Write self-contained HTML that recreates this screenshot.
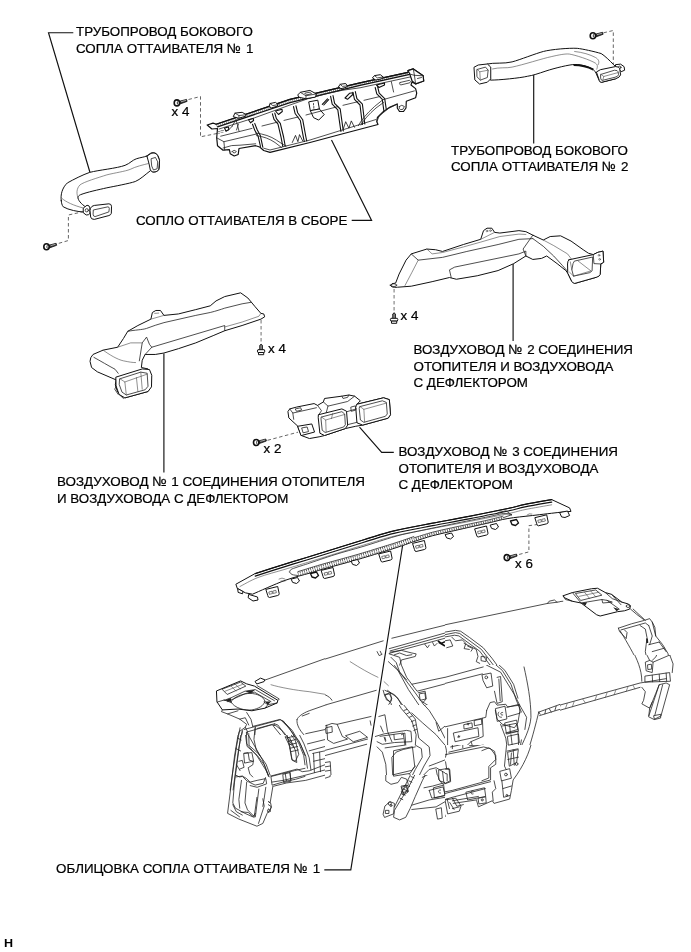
<!DOCTYPE html>
<html>
<head>
<meta charset="utf-8">
<title>Diagram</title>
<style>
html,body{margin:0;padding:0;background:#fff;}
body{width:691px;height:952px;overflow:hidden;position:relative;font-family:"Liberation Sans",sans-serif;}
svg{position:absolute;left:0;top:0;will-change:transform;}
text{font-family:"Liberation Sans",sans-serif;font-size:13.35px;fill:#000;stroke:#000;stroke-width:0.22px;}
path,circle,ellipse,rect,line,polyline,polygon{vector-effect:non-scaling-stroke;}
.ld{stroke:#111;stroke-width:1.15;fill:none;}
.ds{stroke:#555;stroke-width:0.9;fill:none;stroke-dasharray:3.5 2.5;}
.p{stroke:#111;stroke-width:1;fill:#fff;stroke-linejoin:round;stroke-linecap:round;}
.l{stroke:#222;stroke-width:0.8;fill:none;stroke-linejoin:round;stroke-linecap:round;}
.t{stroke:#444;stroke-width:0.6;fill:none;stroke-linejoin:round;stroke-linecap:round;}
</style>
</head>
<body>
<svg width="691" height="952" viewBox="0 0 691 952">

<!-- LABELS -->
<g id="labels" transform="translate(0,-0.6)">
<text x="76" y="37">ТРУБОПРОВОД БОКОВОГО</text>
<text x="76" y="53.5">СОПЛА ОТТАИВАТЕЛЯ №<tspan dx="1"> 1</tspan></text>
<text x="171.5" y="117.1">x 4</text>
<text x="136" y="226">СОПЛО ОТТАИВАТЕЛЯ В СБОРЕ</text>
<text x="451" y="155.5">ТРУБОПРОВОД БОКОВОГО</text>
<text x="451" y="172">СОПЛА ОТТАИВАТЕЛЯ №<tspan dx="1"> 2</tspan></text>
<text x="400.5" y="321">x 4</text>
<text x="268" y="353.5">x 4</text>
<text x="413.5" y="355">ВОЗДУХОВОД №<tspan dx="1"> 2 СОЕДИНЕНИЯ</tspan></text>
<text x="413.5" y="371.5">ОТОПИТЕЛЯ И ВОЗДУХОВОДА</text>
<text x="413.5" y="387.5">С ДЕФЛЕКТОРОМ</text>
<text x="263.5" y="453.5">x 2</text>
<text x="398.5" y="457">ВОЗДУХОВОД №<tspan dx="1"> 3 СОЕДИНЕНИЯ</tspan></text>
<text x="398.5" y="473.5">ОТОПИТЕЛЯ И ВОЗДУХОВОДА</text>
<text x="398.5" y="489.5">С ДЕФЛЕКТОРОМ</text>
<text x="57" y="486.5" style="font-size:13.43px">ВОЗДУХОВОД №<tspan dx="1"> 1 СОЕДИНЕНИЯ ОТОПИТЕЛЯ</tspan></text>
<text x="57" y="503.5">И ВОЗДУХОВОДА С ДЕФЛЕКТОРОМ</text>
<text x="515" y="569">x 6</text>
<text x="56" y="874">ОБЛИЦОВКА СОПЛА ОТТАИВАТЕЛЯ №<tspan dx="1"> 1</tspan></text>
<text transform="translate(4.1,947.4) scale(1.12,1)" style="font-size:11.2px;font-weight:bold;stroke-width:0">H</text>
</g>
<defs><clipPath id="cA"><rect x="205" y="650" width="120" height="85"/></clipPath><clipPath id="cB"><rect x="325" y="620" width="120" height="85"/></clipPath><clipPath id="cC"><rect x="445" y="580" width="115" height="85"/></clipPath><clipPath id="cD"><rect x="560" y="570" width="120" height="85"/></clipPath><clipPath id="cE"><rect x="560" y="655" width="120" height="85"/></clipPath><clipPath id="cF"><rect x="445" y="665" width="115" height="80"/></clipPath><clipPath id="cG"><rect x="325" y="705" width="120" height="70"/></clipPath><clipPath id="cH"><rect x="205" y="735" width="120" height="95"/></clipPath><clipPath id="cI"><rect x="325" y="775" width="120" height="75"/></clipPath><clipPath id="cJ"><rect x="445" y="745" width="115" height="85"/></clipPath></defs>
<!-- instrument panel -->
<g id="panel">
<g clip-path="url(#cA)"><g transform="translate(205,650) scale(0.17366)">
<path class="l" d="M340,175 L691,50"/>
<path class="p" d="M290,180 L320,162 L345,172 L340,182 L300,195 Z"/>
<path class="t" d="M380,200 C430,215 520,232 600,240 L691,255"/>
<path class="p" d="M68,235 L205,178 L240,195 L285,208 L420,290 L415,305 L345,335 L270,350 L190,340 L100,345 L70,300 Z"/>
<path class="l" d="M100,225 L205,185 L235,208 L130,255 Z"/>
<path class="t" d="M114,238 L216,198 M150,208 L178,236 M175,198 L203,224"/>
<path class="l" d="M110,290 L150,275 L230,237 L290,228 L400,292"/>
<path class="l" d="M130,297 L235,250 L285,243 L380,297"/>
<path class="l" d="M150,300 C170,335 230,350 270,345 C310,338 340,320 345,295"/>
<path class="l" d="M150,300 C160,270 220,250 260,250 C300,250 340,270 345,295"/>
<path class="l" d="M300,205 L428,282 L420,290"/>
<path d="M112,290 L150,277 L150,300 Z M345,297 L380,297 L362,315 Z M232,238 L288,229 L262,250 Z" fill="#222"/>
<path class="l" d="M345,335 L362,315 L415,305 M340,300 L362,315 M110,288 L150,302 M70,300 L110,288"/>
<path class="l" d="M100,345 L95,355 L130,368 L200,398 L240,428 L232,445 L197,470 L185,518"/>
<path class="l" d="M130,368 L190,350 M240,360 L265,400 L275,440 M200,398 L232,390 L252,432 M215,470 L205,518 M232,445 L245,470 L240,518"/>
<path class="l" d="M275,440 L430,400 L452,410 L525,505 L530,518"/>
<path class="l" d="M300,452 L400,425 L420,432 L475,510"/>
<path class="l" d="M290,445 L285,518 M400,425 L395,440 L440,495 L470,518"/>
<path class="l" d="M530,400 C535,385 560,365 600,350 L691,318"/>
<path class="l" d="M530,400 C525,430 545,470 600,518"/>
<path class="l" d="M580,482 L691,458 M560,380 L600,365"/>
</g></g>
<g clip-path="url(#cB)"><g transform="translate(325,620) scale(0.17366)">
<path class="l" d="M0,225 L335,120 M385,105 L691,30"/>
<path class="l" d="M370,165 L691,75 M375,178 L691,90 M370,192 L691,105"/>
<path class="l" d="M300,182 L312,205 L328,198 M318,180 L325,195"/>
<path class="t" d="M145,240 C200,275 260,310 305,330 M340,355 L365,378"/>
<path class="l" d="M0,490 L295,405 M0,430 C20,440 35,450 40,462"/>
<path class="l" d="M370,195 L430,215 L440,260 L470,330 L500,370 L691,330"/>
<path class="l" d="M375,185 L440,175 L500,190 L525,195 L520,210 L440,230 L430,260"/>
<path class="l" d="M400,200 L430,190 L470,205 L500,200"/>
<path class="l" d="M575,140 L590,160 L600,145 M620,130 L630,150 L645,135"/>
<path d="M650,120 L670,135 L691,125 M655,128 L691,150" fill="none" stroke="#111" stroke-width="1.6"/>
<path class="l" d="M365,240 L420,290 L480,400 L560,518"/>
<path class="l" d="M400,262 L460,340 L520,420 L590,518"/>
<path class="l" d="M380,215 L410,245 L430,300 L470,345"/>
<path class="l" d="M500,370 L530,410 L570,400 L691,368"/>
<path class="l" d="M545,425 L575,420 L580,455 L550,462 Z M560,470 L590,490 L575,500"/>
<path class="l" d="M335,405 L345,440 L380,480 L390,518"/>
<path class="l" d="M345,405 L400,430 L440,480 L470,518"/>
<path class="l" d="M350,430 L370,425 L385,450 L375,470 L355,460 Z"/>
<path class="l" d="M360,405 L420,450 L455,518"/>
</g></g>
<g clip-path="url(#cC)"><g transform="translate(445,580) scale(0.17366)">
<path class="l" d="M0,258 L590,135 L600,122 L630,115 L645,128 L691,120"/>
<path class="l" d="M590,135 L645,128"/>
<path class="l" d="M0,300 L60,290 L90,295 L140,330 L220,390 L270,450 L320,518"/>
<path class="l" d="M0,315 L60,303 L85,308 L210,400 L300,518"/>
<path class="l" d="M0,328 L55,318 L80,322 L200,410 L280,518"/>
<path class="l" d="M40,330 L60,350 L100,345 L120,365 L110,395 L140,400"/>
<path class="l" d="M0,350 L30,345 L45,380 L10,390"/>
<path class="l" d="M110,365 L180,400 L190,440 L180,470 L200,480"/>
<path class="l" d="M130,380 L160,395 L150,410"/>
<path class="l" d="M210,440 L240,445 L235,470 L210,465 Z"/>
<path class="l" d="M160,518 L260,490"/>
<path class="l" d="M455,505 L460,518"/>
</g></g>
<g clip-path="url(#cD)"><g transform="translate(555,570) scale(0.17366)">
<path class="l" d="M0,185 L45,180"/>
<path class="p" d="M48,148 L100,130 L210,108 L245,105 L290,130 L325,140 L385,185 L420,195 L435,205 L430,225 L400,235 L360,240 L260,265 L240,258 L150,190 L100,180 L55,160 Z"/>
<path class="l" d="M120,135 L235,115 L270,145 L150,175 Z"/>
<path class="t" d="M138,152 L252,128 M170,128 L200,165 M205,120 L235,155"/>
<path class="l" d="M150,190 L270,170 L300,175 L370,225"/>
<path class="l" d="M270,170 L275,190 L330,185 L300,175"/>
<path d="M150,190 L185,186 L175,205 Z M335,215 L370,226 L355,238 Z" fill="#222"/>
<path class="l" d="M48,148 L60,170 L100,180 M100,130 L150,190"/>
<path class="l" d="M290,130 L330,165 L385,185 M325,140 L380,200"/>
<path class="l" d="M420,208 m-10,0 a10,8 0 1,0 20,0 a10,8 0 1,0 -20,0"/>
<path class="l" d="M435,225 L470,255 L510,285 M450,225 L520,290"/>
<path class="l" d="M365,335 L440,310 L515,290 L545,280 L560,300 L575,330 L580,380 L620,430 L650,480 L660,518"/>
<path class="l" d="M380,345 L520,305 L540,320"/>
<path class="l" d="M365,335 L372,355 L410,395 L415,360 L400,345"/>
<path class="l" d="M490,320 L520,340 L530,390 L525,430 L520,470 L530,518"/>
<path d="M525,395 L535,395 L537,420 L526,420 Z" fill="#222"/>
<path class="l" d="M540,430 L600,415 M560,470 L630,450 M600,415 L640,470 M540,320 L560,380 L545,430"/>
<path class="l" d="M375,350 C400,390 440,460 470,518"/>
<path class="l" d="M580,380 L560,300"/>
</g></g>
<g clip-path="url(#cE)"><g transform="translate(555,650) scale(0.17366)">
<path class="l" d="M0,325 L490,190 L520,185 L640,165"/>
<path class="l" d="M0,355 L490,215"/>
<path class="t" d="M30,320 L20,348 M70,308 L60,338 M110,297 L100,327 M160,283 L175,305 M240,262 L230,290 M300,245 L290,273 M350,232 L340,258 M420,212 L410,238 M450,204 L460,224"/>
<path class="l" d="M445,0 C470,50 500,110 500,180"/>
<path class="l" d="M520,0 L530,30 L545,60 L520,70 L525,120 L560,130 L565,70 L545,60"/>
<path class="l" d="M600,0 L580,40 L560,60 M650,0 L680,80 L675,130 M565,70 L670,25"/>
<path class="l" d="M535,85 L555,82 L557,110 L537,112 Z"/>
<path class="l" d="M520,150 L660,130 L665,180 L520,185 Z M560,145 L562,183 M600,140 L603,182 M640,133 L643,180"/>
<path class="l" d="M500,215 L520,240 L510,290 L500,310 L545,335 L560,300 L580,250 L600,200"/>
<path class="l" d="M540,380 L600,200 L640,190 L660,200 L610,380 L570,400 L540,385"/>
<path class="l" d="M570,378 L610,370 L608,392 L575,400 Z"/>
<path class="l" d="M560,300 L545,335 L540,380"/>
<path class="l" d="M620,200 L575,375"/>
</g></g>
<g clip-path="url(#cF)"><g transform="translate(445,660) scale(0.17366)">
<path class="l" d="M190,0 L240,30 L320,70 L400,200 L430,260 L470,330 L460,400"/>
<path class="l" d="M260,0 L330,60 L380,140 L410,230 L440,300"/>
<path class="l" d="M280,0 L345,60 L395,140 L420,220"/>
<path class="l" d="M455,40 C475,130 495,230 495,330 C490,400 450,470 430,518"/>
<path class="l" d="M540,300 C525,360 505,440 480,518"/>
<path class="l" d="M540,300 L691,245 M545,320 L691,275 M548,312 L540,300"/>
<path class="l" d="M580,288 L575,310 M600,280 L612,300 M640,266 L633,290 M665,257 L675,278"/>
<path class="l" d="M0,100 L220,40 M0,135 L215,80"/>
<path class="l" d="M215,85 L265,75 L275,150 L240,160 L220,120 Z M246,100 a8,8 0 1,0 -16,0 a8,8 0 1,0 16,0"/>
<path class="l" d="M300,100 L320,95 L330,240 L300,250 L285,180 M310,110 L318,235"/>
<path class="l" d="M240,290 L260,245 L285,240 L300,260 L350,255 L360,270 L430,260"/>
<path class="l" d="M290,290 L300,340 L330,370 L400,390 L420,360 L430,300"/>
<path class="l" d="M310,300 C300,310 305,330 325,330"/>
<path class="l" d="M0,385 L215,335 L220,440 L150,470 L100,518"/>
<path class="l" d="M15,395 L15,490 L0,500"/>
<path class="l" d="M50,420 L190,390 L195,440 L60,470 Z"/>
<path class="l" d="M110,372 L155,362 L158,388 L112,397 Z M170,348 L210,340 L212,370 L172,378 Z"/>
<path class="l" d="M150,470 L160,500 L220,490 L260,518"/>
<path class="l" d="M320,370 L350,450 L360,518 M330,380 L410,365 L420,400 L350,420"/>
<path class="l" d="M360,420 L420,410 L425,518 M380,430 L390,518 M440,460 L430,518"/>
<path class="l" d="M240,290 L235,330 L215,335"/>
</g></g>
<g clip-path="url(#cG)"><g transform="translate(325,700) scale(0.17366)">
<path class="l" d="M0,30 L100,0"/>
<path class="l" d="M0,150 L40,135 L70,140 L265,95"/>
<path class="l" d="M0,290 L245,225 M0,320 L240,255"/>
<path class="l" d="M10,145 L15,230 L50,250 L130,225 L100,210 L70,140"/>
<path class="l" d="M120,205 L200,180 L245,215 L165,240 Z"/>
<path class="l" d="M5,160 L40,152 L42,185 L8,192 Z"/>
<path class="l" d="M0,360 L30,355 L35,440 L0,450 M0,385 L30,380 M0,410 L30,405"/>
<path class="l" d="M410,0 L440,50 L500,120 L525,200 L520,260 L555,280 L560,330 L520,400 L480,480 L450,518"/>
<path class="l" d="M430,0 L520,110 L540,220 L600,270 L605,320 L570,380 L540,440 L520,518"/>
<path class="l" d="M455,60 L470,55 M470,80 L487,72 M485,100 L502,92 M497,125 L515,117 M505,150 L523,143 M512,175 L530,168"/>
<path class="l" d="M300,270 L330,300 L350,370 L355,440 L365,480 L380,490 L390,440 L385,330 L410,300 L450,285 L520,270"/>
<path class="l" d="M395,430 L500,405 L520,380 M380,440 L400,470 L440,450 L490,430"/>
<path class="l" d="M310,95 L345,85 L360,180 L385,240"/>
<path class="l" d="M290,210 L340,195 L470,175 L495,180 L500,240 L400,245 L330,255 L300,240"/>
<path class="l" d="M345,215 L350,232 M440,200 L460,190 L465,260 M320,150 L335,185 M260,120 L265,145"/>
<path class="l" d="M545,0 L600,60 L650,140 L691,220"/>
<path class="l" d="M500,75 L560,130 L640,200 L691,260"/>
<path class="l" d="M640,130 L655,180 L691,150"/>
<path class="l" d="M600,380 L640,365 L691,345"/>
<path class="l" d="M560,440 L600,400 L640,390 L691,420"/>
<path class="l" d="M640,400 L650,450 L691,480"/>
<path class="l" d="M560,500 L640,480 L691,518"/>
<path class="l" d="M560,0 L590,20 L575,30 L548,10"/>
</g></g>
<g clip-path="url(#cH)"><g transform="translate(205,730) scale(0.17366)">
<path class="l" d="M195,0 L170,150 L150,320 L130,480 L195,513 L299,554 L333,538 L358,480 L383,446 L378,421 L366,413"/>
<path class="l" d="M149,463 L199,500 M208,471 L249,475 L283,504 L299,388 M308,538 L341,438 L333,396 M366,455 a7,10 0 1,0 1,0"/>
<path class="l" d="M210,0 L190,150 L170,300 L160,420 L175,450 L230,480 L275,500 L290,480"/>
<path class="l" d="M230,0 L240,80 L300,150 L350,230 L370,270"/>
<path class="l" d="M250,30 L330,170 L365,260"/>
<path class="l" d="M225,135 L270,130 L280,180 L230,190 Z"/>
<path class="l" d="M180,270 L215,265 L240,280 L260,300 L300,290 L350,280 L355,310 L300,330 L260,320"/>
<path class="l" d="M210,290 L195,400 L200,450 M240,300 L230,420 L245,460 L280,495"/>
<path class="l" d="M380,265 L530,225 L560,240 L600,235 L691,200"/>
<path class="l" d="M385,300 L450,290 L560,265 L691,230"/>
<path class="l" d="M390,325 L470,305 L580,290 L691,260"/>
<path class="l" d="M450,255 L490,245 L495,295 L455,302 Z"/>
<path class="l" d="M350,330 L340,400 L333,440 M390,330 L375,420 L366,413 M310,340 L300,420 L290,500"/>
<path class="l" d="M365,430 L380,440 L375,470"/>
<path class="l" d="M440,0 L470,20 L480,60 L500,170 L520,180 L540,140 L520,60 L490,20"/>
<path class="l" d="M475,45 L515,35 M480,65 L522,55 M485,85 L528,75 M490,105 L533,95 M494,125 L537,115"/>
<path class="l" d="M530,0 L570,80 L600,160 L610,230"/>
<path class="l" d="M480,0 L540,60 L580,150 L590,220"/>
<path class="l" d="M560,10 L691,-20 M590,80 L691,55 M600,120 L691,95"/>
<path class="l" d="M620,135 L691,120 M625,180 L691,165 M630,245 L625,135 M660,128 L665,240"/>
<path class="l" d="M160,430 L180,470 L215,490"/>
<path class="l" d="M195,180 L215,175 L225,215 L200,225"/>
</g></g>
<g clip-path="url(#cI)"><g transform="translate(325,760) scale(0.17366)">
<path class="l" d="M0,10 L25,5 L30,95 L0,105 M0,40 L28,35 M0,70 L29,65"/>
<path class="l" d="M330,0 L350,60 L350,120 L380,140 L420,130 L440,100 L470,110 L480,140 L440,180 L445,200"/>
<path class="l" d="M385,0 L385,85 L490,65 L510,80"/>
<path class="l" d="M560,0 L520,80 L480,160 L430,240 L400,290 L395,330 L430,345 L465,330 L490,280 L520,210 L560,120 L590,60 L620,20 L691,-10"/>
<path class="l" d="M530,0 L490,90 L440,190 L400,270"/>
<path class="l" d="M535,20 L550,25 M520,45 L537,52 M508,70 L525,77 M495,95 L512,103 M482,120 L500,128 M470,145 L487,153 M457,170 L474,178 M445,195 L461,203 M432,220 L448,228"/>
<path class="l" d="M335,310 L345,265 L375,240 L400,250 L395,310 L345,330 Z M386,262 a6,6 0 1,0 -12,0 a6,6 0 1,0 12,0 M350,290 h18 v18 h-18 Z"/>
<path class="l" d="M440,150 L470,145 L480,180 L450,187 Z"/>
<path class="l" d="M500,260 L600,230 L691,215 M500,285 L640,270 L691,240"/>
<path class="l" d="M570,160 L620,150 L691,130"/>
<path class="l" d="M600,175 L680,155 L691,200 M600,175 L615,220 L691,205"/>
<path class="l" d="M640,282 L670,275 L675,335 L650,340 Z"/>
<path class="l" d="M560,100 L640,60 L691,50 M640,60 L660,120 L691,130"/>
</g></g>
<g clip-path="url(#cJ)"><g transform="translate(435,740) scale(0.17366)">
<path class="l" d="M560,0 C545,70 510,150 450,230 L440,290 L430,340 L340,365 L330,350 L250,385 L240,350"/>
<path class="l" d="M0,100 L80,80 L280,40 L320,50 L350,90 L350,140 L320,160 L320,230 L100,290 L50,300"/>
<path class="l" d="M80,70 L380,0 M90,40 L270,0"/>
<path class="l" d="M40,0 C60,30 75,60 60,100 L0,130"/>
<path class="l" d="M100,0 L100,50 M160,10 L160,45 M200,5 L240,0 L242,28 L202,33 Z"/>
<path class="l" d="M415,0 L400,150 L410,170"/>
<path class="l" d="M420,70 L480,55 L470,130 L430,150 Z M440,75 L435,140"/>
<path class="l" d="M478,138 a8,8 0 1,0 -16,0 a8,8 0 1,0 16,0"/>
<path class="l" d="M375,180 L430,165 L440,220 L385,235 Z"/>
<path class="l" d="M385,235 L390,280 L440,265 M390,280 L395,330 L430,320 M340,235 L350,280 L330,300 L335,350"/>
<path class="l" d="M0,330 L50,310 L320,240 M0,360 L100,330 L290,280"/>
<path class="l" d="M180,300 L285,275 L292,325 L190,345 Z"/>
<path class="l" d="M250,335 L292,327 L295,362 L255,368 Z M278,345 a6,6 0 1,0 -12,0 a6,6 0 1,0 12,0"/>
<path class="l" d="M100,350 L250,325 M105,365 L240,345"/>
<path class="l" d="M60,345 L120,335 L150,380 L140,410 L75,425 Z M85,360 L110,400 M100,395 L140,385"/>
<path class="l" d="M0,400 L40,390 L60,440 L20,455 L0,440"/>
<path class="l" d="M0,280 L40,272 L45,315 L0,325"/>
<path class="l" d="M0,175 L40,165 L85,170 L90,240 L50,255 L20,240 L15,200 L40,190 L70,195 L70,235"/>
<path class="l" d="M20,200 L30,230 L50,240"/>
</g></g>
</g>

<!-- extra panel detail : zoom region [380,690,540,810] -->
<g id="panelx" transform="translate(380,690) scale(0.23155)">
<path class="l" d="M500,80 L540,70 L548,125 L508,135 Z M530,97 a6,6 0 1,0 0,11 M548,75 L600,62 L605,100 L552,115"/>
<path class="l" d="M540,142 L590,130 L598,178 L548,190 Z M560,150 L563,185 M552,200 L598,190 L602,228 L556,238 Z"/>
<path class="l" d="M548,264 L596,254 M552,300 L598,290 M575,258 L580,325"/>
<path class="l" d="M550,365 a6,6 0 1,0 -12,0 a6,6 0 1,0 12,0 M552,455 a4,4 0 1,0 -8,0 a4,4 0 1,0 8,0"/>
<path class="l" d="M232,422 L275,411 L280,455 L237,466 Z M262,432 a7,7 0 1,0 0,13"/>
<path class="l" d="M402,436 a7,7 0 1,0 0,13 M290,470 L300,512 M312,466 L332,502 L360,495"/>
<path class="l" d="M335,203 l10,-3 m-5,-4 l1,10 M376,148 l9,-2 m-5,-3 l1,8"/>
<path class="l" d="M0,200 L100,186 L108,238 L22,250 M18,205 L24,222 M60,192 L62,215 L100,210"/>
<path class="l" d="M60,262 L140,245 L150,330 L130,360 L60,372 Z"/>
<path class="l" d="M255,345 L298,338 L303,392 L272,408 L255,388 Z M270,352 L275,395 M283,310 L288,340"/>
<path class="l" d="M95,420 L110,412 L122,440 L105,452 Z M35,490 a7,7 0 1,0 14,0 a7,7 0 1,0 -14,0"/>
<path class="l" d="M20,20 L45,12 L50,45 L38,62 M165,12 L195,5 L200,38 L185,55"/>
<path class="l" d="M440,262 L470,250 L495,265 L500,300 L470,330 L470,380 L440,392"/>
</g>

<!-- extra left pillar detail : zoom region [225,700,305,790] -->
<g id="pillarx" transform="translate(225,700) scale(0.11577)">
<path class="l" d="M165,255 L480,170 L560,250 L640,380 L680,480 L691,560"/>
<path class="l" d="M185,278 L400,215 L440,222 L500,270 L540,320"/>
<path class="l" d="M500,180 L580,262 L655,390 L691,480"/>
<path class="l" d="M130,240 L100,400 L70,600 L45,777 M150,262 L118,420 L92,610 L70,777 M110,330 L140,345 M95,420 L135,440"/>
<path class="l" d="M185,280 L190,400 L280,480 L340,560 L375,660 M205,290 L208,392 L295,470 L355,555 L390,650"/>
<path class="l" d="M260,240 L250,340 L270,430 L300,480"/>
<path class="l" d="M165,460 L200,455 L210,520 L245,530 L240,560 L200,585 L215,640 L240,665"/>
<path class="l" d="M520,320 L560,400 L580,520 L620,540 L610,440 L560,330 Z M535,330 L575,360 M545,350 L588,385 M555,372 L598,410"/>
<path class="l" d="M100,560 L130,610 M95,650 L125,665 L150,660 L190,700 L260,735 L330,720 L350,670"/>
<path class="l" d="M400,660 L520,630 L530,700 L410,735 Z M520,630 L600,610 L691,590 M530,700 L610,685 L691,660 M560,622 L568,692"/>
</g>
<!-- LEADERS -->
<g id="leaders">
<path class="ld" d="M73.3 32.7H48.5L90 172.5"/>
<path class="ds" d="M84 211.5L68.4 215V240.5L56.5 244"/>
<path class="ds" d="M188.5 99.5L200.5 96.5V136.8L217 133.5"/>
<path class="ld" d="M331.5 140L371.6 220.4H351.7"/>
<path class="ld" d="M533.7 74V143.5"/>
<path class="ds" d="M603.5 32.8L613.3 30.5V66"/>
<path class="ld" d="M513.1 263.6V341"/>
<path class="ds" d="M394.1 289V311" style="stroke:#999;stroke-width:1.4"/>
<path class="ld" d="M163.9 353.5V472.5"/>
<path class="ds" d="M261.1 320V342.5" style="stroke:#999;stroke-width:1.4"/>
<path class="ld" d="M359.5 427.2L381.7 452.3H393.8"/>
<path class="ds" d="M267.5 440.3L298 432.2"/>
<path class="ds" d="M538 524.4L528.9 525.7V551.9L518.5 554.6"/>
<path class="ld" d="M402.7 545L350.8 869.9H324.3"/>
</g>
<!-- PARTS -->
<g id="parts">

<!-- pipe 1 : zoom region [40,140,180,260] scale 140/691 -->
<g id="pipe1" transform="translate(40,140) scale(0.20260)">
<path class="p" d="M105,300 C100,270 110,235 135,212 C165,195 210,172 245,160 C290,148 380,140 420,125 C445,115 455,100 475,93 C495,86 515,85 528,78 L545,66 C555,60 570,62 578,72 C590,85 592,110 588,140 C587,152 570,160 557,158 L547,150 C520,170 495,195 470,205 C440,215 370,228 330,236 C290,245 230,258 200,270 C185,277 185,285 192,298 C198,308 208,318 218,325 L240,345 L215,355 C190,355 140,345 115,330 C108,322 106,310 105,300 Z"/>
<path class="t" d="M190,292 C178,265 180,240 197,222 C215,207 290,185 330,172 C370,162 420,155 445,145 C470,132 510,122 540,115"/>
<path class="t" d="M108,288 C125,305 170,325 212,335"/>
<path class="p" d="M528,80 L548,66 Q570,60 580,75 L590,100 L586,148 Q575,160 557,158 L545,150 Q540,120 528,80 Z"/>
<path class="l" d="M550,92 L570,86 L581,108 L578,142 L560,148 L552,130 Z"/>
<path class="p" d="M215,335 L232,322 Q245,322 246,335 L247,362 Q240,372 228,370 L215,360 Z"/>
<circle class="l" cx="231" cy="347" r="8"/>
<path class="p" d="M250,335 Q255,325 268,323 L340,315 Q352,315 353,327 L352,362 Q350,370 340,373 L268,392 Q252,392 250,380 L247,350 Z"/>
<path class="l" d="M265,345 L335,330 Q342,330 342,338 L340,355 L272,378 Q262,378 262,368 Z"/>
</g>

<!-- defroster nozzle assembly (image coords) -->
<g id="nozzle">
<!-- body outline -->
<path class="p" style="stroke-width:1.2" d="M207.2,125 L213,123.1 L216.5,124.2 L290,99.4 L360,82.8 L408,72.4 L408,70.6 L413.3,68.9 L423.1,75.8 L423.7,81 L415.6,83.9 L412,82 L411,85 L415.6,88.6 L416.7,93.2 L415.6,97.8 L406.3,101.3 L406,108 L403.5,111.5 L399.5,111.5 L397.3,108 L397.3,104 L390.1,107.1 L383.2,111.7 L377.4,117.5 L376.8,121.7 L378,124.5 L340,134.5 L310,142.5 L270,152.4 L263.7,150.5 L259.7,147 L255.7,145.7 L239,148.5 L238.2,154.5 L234.2,156 L230.2,153.7 L229.4,149.7 L223,150.2 L217.5,145.7 L216.7,137.8 L217.5,128.5 L211.9,129 Z"/>
<!-- rail: bold double line with hatch -->
<path d="M216.5,125.6 L290,100.9 L360,84.2 L409,73.6" fill="none" stroke="#777" stroke-width="2.4" stroke-dasharray="0.7 1.3"/>
<path class="l" style="stroke-width:1.2;stroke:#111" d="M215.9,124.2 L290,99.4 L360,82.8 L408,72.4"/>
<path class="l" style="stroke-width:1.2;stroke:#111" d="M217.5,126.9 L290,102.6 L360,85.3 L410.9,74.1"/>
<path class="l" d="M219.1,129 Q255,118.5 290,105 T360,87.8 L411,76.8"/>
<!-- tabs on rail -->
<path class="p" d="M233.4,116.3 L235,113.1 L242.2,112.3 L246.2,114.7 L245.4,116.3 L238.8,118.2 Z"/>
<path class="l" d="M235,113.1 L239,115.6 L246.2,114.7 M239,115.6 L238.8,118.2"/>
<path class="p" d="M269.2,106.2 L270,103.5 L275.6,102.4 L278,104.6 L277.2,106.2 L272,107.8 Z"/>
<path class="l" d="M270,103.5 L272.8,105.6 L278,104.6"/>
<path class="p" d="M298,94.7 L300.3,92.3 L309.9,90.4 L316.3,93.9 L315.5,97.1 L305.9,98.7 L299.5,97.4 Z"/>
<path class="l" d="M300.3,92.3 L306,95.8 L316.3,93.9 M306,95.8 L305.9,98.7 M305.1,93.1 L309.9,92.2 L311.5,93.8 L306.8,94.8 Z"/>
<path class="p" d="M338.6,86.7 L340.1,84.3 L345.7,83.5 L347.3,85.9 L346.5,87.3 L341.3,88.6 Z"/>
<path class="l" d="M340.1,84.3 L342.5,86.4 L347.3,85.9"/>
<path class="p" d="M372.7,77.6 L374.5,75.6 L380.3,74.7 L383.2,77 L382.4,78.6 L376.1,80 Z"/>
<path class="l" d="M374.5,75.6 L377.3,77.9 L383.2,77"/>
<!-- end block -->
<path class="p" style="stroke-width:1.2" d="M408,70.6 L413.3,68.9 L423.1,75.8 L423.7,81 L415.6,83.9 L412.1,81 L409.8,74.1 Z"/>
<path class="l" d="M413.3,68.9 L414.4,75.3 L423.1,75.8 M414.4,75.3 L415.6,83.9 M409.8,74.1 L414.4,75.3 M417.5,78.5 L421.5,77.5"/>
<!-- box under tab C with tongue -->
<path class="p" d="M309.1,101.8 L317.8,100.2 L319.4,109 L310.7,110.6 Z"/>
<path class="l" d="M313.5,103.5 V105 M313.8,106.5 V108.2"/>
<path class="p" d="M310.7,110.6 L319.4,109 L324.2,114.6 L318.7,120.1 L313.9,117.8 Z"/>
<!-- end face at left -->
<path class="l" d="M216.7,137.8 L223.9,141.7 L224.7,150 M223.9,141.7 L257.3,133.8"/>
<path class="t" d="M217.5,131.5 h2.5 m-2.5,1.8 h2 M221,130.5 h2.5 m-2.5,1.8 h2"/>
<!-- mid line -->
<path class="l" d="M220.7,136.2 L252,128.4 M262,126 L278,122 M284,120.4 L298,117 M306,115 L337.8,106.6 M343,105.3 L358,101.7 M364,100.3 L380,96.5 M383.2,99.6 L414.4,90.9"/>
<!-- bottom lip -->
<path class="l" d="M263.7,148.2 L270,150 L310,140 L376,119.5"/>
<!-- ribs (double) -->
<path class="l" style="stroke:#111;stroke-width:1.1" d="M252.5,124.2 L254.9,130.6 L258.1,136.2 L260.5,146.5 M254.7,123.4 L257.2,129.8 L260.3,135.4 L262.8,147.2"/>
<path class="l" style="stroke:#111;stroke-width:1.1" d="M272.4,113.9 L274,119.4 L278,124.2 L281.2,137.8 L282.8,146.5 M274.8,113.1 L276.4,118.6 L280.3,123.4 L283.6,137 L285.2,146"/>
<path class="l" style="stroke:#111;stroke-width:1.1" d="M293.5,106.6 L295.1,113.5 L300.3,120.5 L303.5,137.8 L304.3,141.5 M296,105.9 L297.6,112.7 L302.7,119.7 L305.9,137 L306.7,141"/>
<path class="l" style="stroke:#111;stroke-width:1.1" d="M330.6,96.3 L332.2,104.2 L337.8,109.8 L340.9,131.5 M333,95.5 L334.6,103.4 L340.2,109 L343.3,131"/>
<path class="l" style="stroke:#111;stroke-width:1.1" d="M352.9,92.3 L354.5,99.4 L360,105 L362.4,124.5 M355.3,91.5 L356.9,98.6 L362.4,104.2 L364.8,124"/>
<path class="l" style="stroke:#111;stroke-width:1.1" d="M375.2,87.5 L376.8,93.9 L382.3,99.4 L383.9,111 M377.6,86.7 L379.2,93.1 L384.7,98.6 L386.3,109.5"/>
<path class="l" d="M391.3,81.6 L393.6,92 M400,82.5 L409.5,80.3 Q411.5,81.3 409.8,82.8 L400.5,85 Q398.8,84 400,82.5"/>
<!-- curves in pockets -->
<path class="l" d="M255.7,133 Q268,134.5 276.4,140.1 T286,146 M256.5,135.6 Q267,137 275,142.5 L281.5,147.5"/>
<path class="l" d="M358.4,125.7 Q362,118 374.4,106.6 L382.3,100.2 M361,125 Q365,117.5 376,108 L383.5,102.5"/>
<path class="l" d="M223,148 Q232,144.5 240,145.2 L255.7,143.8"/>
<path class="l" d="M376.8,121.7 L379.1,116.2 L388.7,108.2 L397.3,104"/>
<!-- teeth -->
<path class="l" style="stroke:#111" d="M292.3,142.5 L295.5,135.4 L297.9,141.7 L299.5,134.6 L302.7,140.9"/>
<path class="l" style="stroke:#111" d="M343.3,128.9 L345.7,121.7 L348.9,128.1 L351.3,120.9 L354.5,127.3"/>
<path class="l" d="M232,126.5 L236,119.5 L239,131 M238.5,124 L236.5,130 M228,130.5 L232,126.5"/>
<!-- dark clips -->
<path class="l" style="stroke:#111;stroke-width:1.1" d="M224.5,128 L228.5,127 L228.8,129.5 L226,131.3 Z M248.5,119.8 L253.3,118.5 L253.6,120.5 L250.5,122.8 Z M275.5,111 L282,109.3 L282.3,111.5 L278.5,114.5 Z M322.3,104.3 L327.5,98.8 M323.8,105 L328.7,99.7 M345,98 L349.5,93.3 L353,92.8 L352.8,94.5 L347.5,99.3 Z M376.5,85 L384.5,83 L384.5,85 L379,87.5 Z"/>
<!-- bottom tabs -->
<path class="l" d="M232,151.5 q2.2,-2.5 4.4,0 q-2.2,3 -4.4,0"/>
<path class="l" d="M399.2,106.5 q2.6,-2.5 5.2,0 q-1,4 -3.8,3.2 q-1.8,-1 -1.4,-3.2"/>
</g>

<!-- pipe 2 : zoom region [460,15,640,105] -->
<g id="pipe2" transform="translate(460,15) scale(0.26049)">
<path class="p" d="M105,188 C130,182 170,188 200,180 C230,172 290,148 320,140 C350,132 420,126 450,128 C470,130 515,140 542,148 C555,156 575,175 590,191 L597,198 L616.5,229.5 L597,245 L543,258.5 L535,253 L525,230 C522,220 516,214 512,210 C500,200 470,190 440,190 C420,190 360,205 330,215 C300,225 280,232 260,235 C230,242 150,250 118,250 Z"/>
<path class="t" d="M125,207 C150,200 180,205 200,200 C240,192 320,166 350,160 C380,153 405,148 420,150 C440,153 500,172 520,185 C530,192 528,200 525,208"/>
<path class="t" d="M440,140 C470,143 500,152 520,163 C532,170 536,178 531,190"/>
<path d="M436,192 C460,192 490,198 512,210" stroke="#111" stroke-width="1.9" fill="none"/>
<path class="p" d="M55,200 L70,192 L105,188 L118,200 L118,245 L105,258 L75,265 L58,250 Z"/>
<path class="l" d="M66,209 L98,200 L108,212 L105,240 L78,250 L66,238 Z"/>
<path class="t" d="M66,209 L76,218 L78,250 M76,218 L108,212"/>
<path class="p" d="M597,198 L597,190.6 L616.5,188.6 L630,198.3 L632,212 L618.5,217.8 L614,212 Z"/>
<circle class="l" cx="613" cy="201" r="5"/>
<path class="p" d="M525,218 L539,210 L597,198 Q612,198 613,206 L616.5,229.5 Q614,240 597,245 L543,258.5 Q535,258 535,253 Z"/>
<path class="l" d="M541,228 L593,212 Q606,212 607,218 L608.7,229.5 Q607,236 595,239 L546.5,251 Q540,250 540,244 Z"/>
<path class="t" d="M541,228 L552,236 L607,221 M552,236 L548,250"/>
</g>

<!-- bolts -->
<g id="bolts">
<g transform="translate(176.9,102.9)">
<path d="M2.4,-1.6 L9.6,-3.5 L10.2,-1.5 L3,1.1 Z" fill="#333" stroke="#111" stroke-width="0.8"/>
<path d="M4,-1.1 L9,-2.5" stroke="#ddd" stroke-width="0.7"/>
<ellipse cx="0" cy="0" rx="2.7" ry="3" fill="#fff" stroke="#111" stroke-width="1.6"/>
<path d="M1.2,-1.7 A1.7,2 0 0 0 1.2,1.7" fill="none" stroke="#111" stroke-width="0.9"/>
</g>
<g transform="translate(46.5,246.8)">
<path d="M2.4,-1.6 L9.6,-3.5 L10.2,-1.5 L3,1.1 Z" fill="#333" stroke="#111" stroke-width="0.8"/>
<path d="M4,-1.1 L9,-2.5" stroke="#ddd" stroke-width="0.7"/>
<ellipse cx="0" cy="0" rx="2.7" ry="3" fill="#fff" stroke="#111" stroke-width="1.6"/>
<path d="M1.2,-1.7 A1.7,2 0 0 0 1.2,1.7" fill="none" stroke="#111" stroke-width="0.9"/>
</g>
<g transform="translate(592.9,35.8)">
<path d="M2.4,-1.6 L9.6,-3.5 L10.2,-1.5 L3,1.1 Z" fill="#333" stroke="#111" stroke-width="0.8"/>
<path d="M4,-1.1 L9,-2.5" stroke="#ddd" stroke-width="0.7"/>
<ellipse cx="0" cy="0" rx="2.7" ry="3" fill="#fff" stroke="#111" stroke-width="1.6"/>
<path d="M1.2,-1.7 A1.7,2 0 0 0 1.2,1.7" fill="none" stroke="#111" stroke-width="0.9"/>
</g>
<g transform="translate(256.2,442.5)">
<path d="M2.4,-1.6 L9.6,-3.5 L10.2,-1.5 L3,1.1 Z" fill="#333" stroke="#111" stroke-width="0.8"/>
<path d="M4,-1.1 L9,-2.5" stroke="#ddd" stroke-width="0.7"/>
<ellipse cx="0" cy="0" rx="2.7" ry="3" fill="#fff" stroke="#111" stroke-width="1.6"/>
<path d="M1.2,-1.7 A1.7,2 0 0 0 1.2,1.7" fill="none" stroke="#111" stroke-width="0.9"/>
</g>
<g transform="translate(506.9,557.6)">
<path d="M2.4,-1.6 L9.6,-3.5 L10.2,-1.5 L3,1.1 Z" fill="#333" stroke="#111" stroke-width="0.8"/>
<path d="M4,-1.1 L9,-2.5" stroke="#ddd" stroke-width="0.7"/>
<ellipse cx="0" cy="0" rx="2.7" ry="3" fill="#fff" stroke="#111" stroke-width="1.6"/>
<path d="M1.2,-1.7 A1.7,2 0 0 0 1.2,1.7" fill="none" stroke="#111" stroke-width="0.9"/>
</g>
<g transform="translate(394.1,312.5)">
<path d="M-1.4,6 V1.5 Q0,-1 1.4,1.5 V6 Z" fill="#555" stroke="#111" stroke-width="0.8"/>
<path d="M0,1.5 V6" stroke="#ccc" stroke-width="0.6"/>
<path d="M-3.2,5.8 H3.2 Q4.3,7.2 3.2,8.6 H-3.2 Q-4.3,7.2 -3.2,5.8 Z" fill="#fff" stroke="#111" stroke-width="1"/>
<path d="M-2.6,8.6 H2.6 V10.8 H-2.6 Z" fill="#fff" stroke="#111" stroke-width="1"/>
</g>
<g transform="translate(261.1,343.9)">
<path d="M-1.4,6 V1.5 Q0,-1 1.4,1.5 V6 Z" fill="#555" stroke="#111" stroke-width="0.8"/>
<path d="M0,1.5 V6" stroke="#ccc" stroke-width="0.6"/>
<path d="M-3.2,5.8 H3.2 Q4.3,7.2 3.2,8.6 H-3.2 Q-4.3,7.2 -3.2,5.8 Z" fill="#fff" stroke="#111" stroke-width="1"/>
<path d="M-2.6,8.6 H2.6 V10.8 H-2.6 Z" fill="#fff" stroke="#111" stroke-width="1"/>
</g>
</g>
<!-- duct 3 : zoom region [240,395,400,470] -->
<g id="duct3" transform="translate(240,395) scale(0.23155)">
<path class="p" d="M208,70 L215,60 L245,52 L320,37 L335,45 L360,30 L365,15 L440,5 L470,0 L495,5 L520,25 L505,40 L620,12 L645,20 L650,85 L640,100 L530,130 L500,135 L455,145 L365,175 L345,180 L300,188 L265,175 L250,135 L212,100 Z"/>
<path class="l" d="M335,45 L352,68 L340,85"/>
<path class="l" d="M360,30 L380,48 L465,28 L495,5 M380,48 L372,78"/>
<path class="l" d="M215,60 L228,78 L330,55 M228,78 L232,105"/>
<path class="l" d="M240,60 L262,55 L266,65 L246,70 Z"/>
<path class="p" d="M250,135 L310,125 L322,160 L265,175 Z"/>
<path class="l" d="M268,142 L290,138 L296,158 L274,163 Z"/>
<path class="p" d="M340,85 L440,60 L460,70 L465,130 L455,145 L365,175 L345,165 L338,100 Z"/>
<path class="l" d="M352,95 L440,72 L452,82 L455,128 L448,138 L368,162 L355,152 L350,105 Z"/>
<path class="t" d="M352,95 L370,108 L372,160 M370,108 L452,84 M395,102 L400,80"/>
<path class="p" d="M505,40 L620,12 L645,20 L650,85 L640,100 L530,130 L505,120 L500,55 Z"/>
<path class="l" d="M518,50 L615,25 L632,32 L636,82 L628,92 L535,118 L520,108 L515,60 Z"/>
<path class="t" d="M518,50 L535,62 L538,116 M535,62 L632,35"/>
<path class="l" d="M462,72 L502,60 M465,128 L505,118 M480,52 L498,47 L500,65 L482,70 Z"/>
<path class="l" d="M440,5 L445,15 L465,10 L470,0"/>
</g>

<!-- duct 2 : zoom region [380,215,620,305] -->
<g id="duct2" transform="translate(380,215) scale(0.34732)">
<path class="p" d="M30,202 Q32,196 45,196 L55,170 L75,130 L90,112 L135,98 L160,100 L180,105 L240,85 L290,70 L298,45 L308,38 L322,38 L330,50 L345,52 L400,45 L420,48 L440,58 L470,72 L490,62 L520,60 L550,75 L585,100 L600,110 L614,114 L627,107.6 L642,104 L644,136 L635.6,141 L634,171 L624,179 L560.6,197 L552,191 L540.6,167.6 L535,160 L510,140 L480,118 L465,125 L440,128 L420,118 L385,140 L340,160 L280,175 L220,185 L200,180 L150,192 L90,205 L50,208 Q32,210 30,202 Z"/>
<path class="l" d="M90,112 L110,130 L180,122 L250,105 L340,85 L400,70 L440,68"/>
<path class="t" d="M110,130 L92,165 L72,203"/>
<path class="t" d="M135,98 L150,112 L180,108 L240,92 L290,78 L345,62 L400,55 L420,56"/>
<path class="l" d="M205,180 L200,158 L215,150 L400,112 L420,104 L420,118"/>
<path class="l" d="M440,58 L412,98 L420,118"/>
<path class="l" d="M440,68 L470,90 L500,118 L525,145 L538,160"/>
<path class="t" d="M470,72 L500,88 L540,112 L552,128"/>
<path class="t" d="M290,70 L330,50"/>
<circle class="t" cx="308" cy="46" r="2.5"/><circle class="t" cx="318" cy="45" r="2.5"/>
<ellipse class="l" cx="40" cy="202" rx="8" ry="4"/>
<path class="p" d="M544,129 L614,114 L627,107.6 L642,104 L644,136 L635.6,141 L634,171 Q632,177 624,179 L560.6,197 Q554,196 552,191 L540.6,167.6 L540,141 Q540,132 544,129 Z"/>
<path class="l" d="M560.6,132.6 L612.3,121 L610.6,161 L604,166 L557.3,176 L552.3,157.6 L555.6,141 Z"/>
<path class="t" d="M570.6,132.6 L607.3,161 L557.3,176 M548,135 L552.3,157.6 M546,165 L557.3,176"/>
<path class="l" d="M614,114 L616,140 L635.6,141"/>
<circle class="t" cx="630.6" cy="116" r="2.5"/><circle class="t" cx="632.3" cy="127.6" r="2.5"/>
</g>

<!-- duct 1 : zoom region [80,285,280,420] -->
<g id="duct1" transform="translate(80,285) scale(0.28944)">
<path class="p" d="M38,250 L45,240 L80,225 L130,215 L150,185 L165,160 L200,140 L245,118 L250,95 L262,88 L278,88 L290,105 L340,100 L400,85 L450,72 L470,55 L500,40 L555,27 L580,45 L605,75 L625,98 L635,100 L638,110 L625,118 L560,140 L500,158 L460,175 L400,200 L340,220 L290,235 L260,240 L225,240 L215,260 L212,285 L235,290 L245,310 L245,350 L235,368 L155,390 L130,370 L122,345 L125,328 L60,300 L40,285 L35,265 Z"/>
<path class="l" d="M165,160 C190,155 215,155 230,150 C250,143 270,135 290,130 L400,105 L450,95 C470,90 485,85 500,80 L560,65 L590,60"/>
<path class="l" d="M205,262 L215,200 L230,180 L240,205 L248,215 L500,140 L500,158"/>
<path class="l" d="M248,215 L225,240"/>
<path class="t" d="M130,215 L175,200 L215,200"/>
<path class="l" d="M48,250 C70,262 100,280 121,291 L132,305"/>
<path class="t" d="M80,225 C100,240 130,258 150,262 C170,266 180,268 192,268"/>
<path class="t" d="M245,118 L290,105 M258,98 L272,97"/>
<path class="t" d="M625,98 L618,108 L560,128 L500,145"/>
<path class="p" d="M125,318 L215,290 L240,292 L248,312 L247,352 L235,368 L155,390 L135,378 L125,350 Z"/>
<path class="l" d="M138,324 L210,301 L232,305 L235,350 L225,362 L160,380 L145,370 L136,345 Z"/>
<path class="t" d="M138,324 L155,335 L160,380 M155,335 L232,308 M195,320 L200,368 M210,301 L215,360"/>
<path class="l" d="M125,350 L120,360 L132,378 M135,378 L150,392"/>
</g>

<!-- garnish strip -->
<g id="strip">
<path class="p" d="M255.2,573.6 C260.2,572.0 276.3,566.8 285.0,564.1 C293.7,561.4 294.5,561.2 307.5,557.2 C320.5,553.2 348.5,544.4 363.1,540.0 C377.7,535.6 383.4,533.5 395.0,530.7 C406.6,527.9 420.1,525.6 432.6,523.2 C445.2,520.8 457.8,518.6 470.3,516.1 C482.9,513.6 498.8,510.4 507.9,508.5 C517.0,506.6 517.7,505.9 525.0,504.4 C532.3,502.9 547.2,500.4 551.7,499.6 L569.6,507.9 L571,511.4 L560,512.3 L560.0,512.3 C555.4,512.8 541.2,514.5 532.5,515.5 C523.8,516.5 515.1,517.3 507.9,518.5 C500.6,519.7 495.3,521.4 489.0,522.8 C482.7,524.2 476.6,525.6 470.3,527.0 C464.0,528.4 457.7,529.8 451.4,531.3 C445.1,532.8 438.9,534.0 432.6,535.7 C426.3,537.4 418.8,540.0 413.8,541.6 C408.8,543.2 407.3,544.0 402.5,545.6 C397.7,547.2 392.9,548.8 385.0,551.2 C377.1,553.7 364.7,557.5 355.0,560.3 C345.3,563.1 334.5,565.9 327.0,568.0 C319.5,570.1 317.0,570.9 310.0,573.0 C303.0,575.1 294.6,576.9 285.0,580.4 C275.4,583.9 257.9,591.9 252.5,594.2 L245.6,592.9 L237.4,588.7 L236,584.6 Z"/>
<path class="l" style="stroke-width:1.2;stroke:#111" d="M255.2,576.1 C260.2,574.5 276.3,569.3 285.0,566.6 C293.7,563.9 294.5,563.7 307.5,559.7 C320.5,555.7 348.5,546.9 363.1,542.5 C377.7,538.1 383.4,536.0 395.0,533.2 C406.6,530.4 420.1,528.1 432.6,525.7 C445.2,523.3 457.8,521.1 470.3,518.6 C482.9,516.1 498.8,513.0 507.9,511.0 C517.0,509.1 517.7,508.4 525.0,506.9 C532.3,505.4 547.2,502.9 551.7,502.1"/>
<path class="l" style="stroke-width:1.2;stroke:#111;fill:none" d="M255.2,573.6 C260.2,572.0 276.3,566.8 285.0,564.1 C293.7,561.4 294.5,561.2 307.5,557.2 C320.5,553.2 348.5,544.4 363.1,540.0 C377.7,535.6 383.4,533.5 395.0,530.7 C406.6,527.9 420.1,525.6 432.6,523.2 C445.2,520.8 457.8,518.6 470.3,516.1 C482.9,513.6 498.8,510.4 507.9,508.5 C517.0,506.6 517.7,505.9 525.0,504.4 C532.3,502.9 547.2,500.4 551.7,499.6"/>
<path class="t" d="M240.0,586.5 C243.0,585.0 250.5,580.4 258.0,577.5 C265.5,574.6 276.8,571.8 285.0,569.3 C293.2,566.8 294.5,566.4 307.5,562.4 C320.5,558.4 348.5,549.6 363.1,545.2 C377.7,540.8 383.4,538.7 395.0,535.9 C406.6,533.1 420.1,530.8 432.6,528.4 C445.2,526.0 457.8,523.8 470.3,521.3 C482.9,518.9 498.8,515.7 507.9,513.7 C517.0,511.8 517.7,511.1 525.0,509.6 C532.3,508.1 547.2,505.6 551.7,504.8"/>
<path class="l" d="M289.6,572.0 C289.8,571.6 289.8,570.3 291.0,569.5 C292.2,568.7 294.2,568.2 297.0,567.2 C299.8,566.2 301.2,565.9 307.5,563.8 C313.8,561.7 325.8,557.5 335.0,554.6 C344.2,551.7 353.0,549.5 363.0,546.5 C373.0,543.5 386.5,538.9 395.0,536.5 C403.5,534.1 404.4,534.1 413.8,532.1 C423.2,530.1 438.9,526.8 451.4,524.2 C463.9,521.6 480.4,518.4 489.0,516.6 C497.6,514.8 499.4,513.9 503.2,513.6 C507.0,513.3 510.2,514.6 511.6,514.8"/>
<path class="l" d="M289.6,572.0 C290.0,572.4 290.6,573.9 292.0,574.5 C293.4,575.1 297.0,575.3 298.0,575.5"/>
<path d="M298.0,574.2 C300.0,573.6 305.2,572.0 310.0,570.5 C314.8,569.0 319.5,567.6 327.0,565.5 C334.5,563.4 345.3,560.6 355.0,557.8 C364.7,555.0 377.1,551.2 385.0,548.7 C392.9,546.2 397.7,544.7 402.5,543.1 C407.3,541.5 411.9,539.9 413.8,539.2" fill="none" stroke="#4a4a4a" stroke-width="4.4" stroke-dasharray="0.9 1.3"/>
<path d="M413.8,539.8 C416.9,538.9 426.3,535.8 432.6,534.1 C438.9,532.4 445.1,531.2 451.4,529.8 C457.7,528.4 464.0,527.1 470.3,525.7 C476.6,524.4 483.6,523.0 489.0,521.7 C494.4,520.4 500.7,518.7 503.0,518.1" fill="none" stroke="#555" stroke-width="2.8" stroke-dasharray="0.9 1.4"/>
<path class="l" d="M298.0,571.6 C300.0,571.0 305.2,569.4 310.0,567.9 C314.8,566.4 319.5,565.0 327.0,562.9 C334.5,560.8 345.3,558.0 355.0,555.2 C364.7,552.4 377.1,548.5 385.0,546.1 C392.9,543.7 397.7,542.1 402.5,540.5 C407.3,538.9 411.9,537.2 413.8,536.6"/>
<path class="l" d="M413.8,537.9 C416.9,537.0 426.3,533.9 432.6,532.2 C438.9,530.5 445.1,529.3 451.4,527.9 C457.7,526.5 464.0,525.2 470.3,523.8 C476.6,522.5 483.6,521.1 489.0,519.8 C494.4,518.5 500.7,516.8 503.0,516.2"/>
<path d="M298.0,574.2 C300.0,573.6 305.2,572.0 310.0,570.5 C314.8,569.0 319.5,567.6 327.0,565.5 C334.5,563.4 345.3,560.6 355.0,557.8 C364.7,555.0 377.1,551.2 385.0,548.7 C392.9,546.2 397.7,544.7 402.5,543.1 C407.3,541.5 411.9,539.9 413.8,539.2" fill="none" stroke="#fff" stroke-width="0.7"/>
<path class="l" d="M511.6,514.8 L503,517.8 M498,512.5 L506,510.8 L511.6,514.8"/>
<path class="t" d="M279,579 q3,-2 6,0 M281,581 h4"/>
<path class="t" d="M527,515 q2,-2 5,-1"/>
<path class="p" d="M266.2,589.3 L277.7,586.5 L279.2,593.7 Q279.3,595.1 277.7,595.5 L269.4,597.5 Q268.0,597.5 267.8,595.9 Z"/><rect class="t" style="stroke:#222" x="269.2" y="591.9" width="2.8" height="2.4" transform="rotate(-14 269.2 591.9)"/><rect class="t" style="stroke:#222" x="273.1" y="591.0" width="2.8" height="2.4" transform="rotate(-14 273.1 591.0)"/>
<path class="p" d="M321.5,570.3 L333.0,567.5 L334.5,574.7 Q334.6,576.1 333.0,576.5 L324.7,578.5 Q323.3,578.5 323.1,576.9 Z"/><rect class="t" style="stroke:#222" x="324.5" y="572.9" width="2.8" height="2.4" transform="rotate(-14 324.5 572.9)"/><rect class="t" style="stroke:#222" x="328.4" y="572.0" width="2.8" height="2.4" transform="rotate(-14 328.4 572.0)"/>
<path class="p" d="M379.1,553.8 L390.6,551.0 L392.1,558.2 Q392.2,559.6 390.6,560.0 L382.3,562.0 Q380.9,562.0 380.7,560.4 Z"/><rect class="t" style="stroke:#222" x="382.1" y="556.4" width="2.8" height="2.4" transform="rotate(-14 382.1 556.4)"/><rect class="t" style="stroke:#222" x="386.0" y="555.5" width="2.8" height="2.4" transform="rotate(-14 386.0 555.5)"/>
<path class="p" d="M412.9,543.3 L424.4,540.5 L425.9,547.7 Q426.0,549.1 424.4,549.5 L416.1,551.5 Q414.7,551.5 414.5,549.9 Z"/><rect class="t" style="stroke:#222" x="415.9" y="545.9" width="2.8" height="2.4" transform="rotate(-14 415.9 545.9)"/><rect class="t" style="stroke:#222" x="419.8" y="545.0" width="2.8" height="2.4" transform="rotate(-14 419.8 545.0)"/>
<path class="p" d="M475.0,528.8 L486.5,526.0 L488.0,533.2 Q488.1,534.6 486.5,535.0 L478.2,537.0 Q476.8,537.0 476.6,535.4 Z"/><rect class="t" style="stroke:#222" x="478.0" y="531.4" width="2.8" height="2.4" transform="rotate(-14 478.0 531.4)"/><rect class="t" style="stroke:#222" x="481.9" y="530.5" width="2.8" height="2.4" transform="rotate(-14 481.9 530.5)"/>
<path class="p" d="M535.2,517.6 L546.7,514.8 L548.2,522.0 Q548.3,523.4 546.7,523.8 L538.4,525.8 Q537.0,525.8 536.8,524.2 Z"/><rect class="t" style="stroke:#222" x="538.2" y="520.2" width="2.8" height="2.4" transform="rotate(-14 538.2 520.2)"/><rect class="t" style="stroke:#222" x="542.1" y="519.3" width="2.8" height="2.4" transform="rotate(-14 542.1 519.3)"/>
<path class="p" d="M291.5,579.0 L297.5,577.5 L299.5,581.0 L296.5,583.5 L293.0,582.5 Z" />
<path class="p" d="M310.5,573.5 L316.5,572.0 L318.5,575.5 L315.5,578.0 L312.0,577.0 Z" style="stroke-width:1.4"/>
<path class="p" d="M351.5,561.0 L357.5,559.5 L359.5,563.0 L356.5,565.5 L353.0,564.5 Z" />
<path class="p" d="M445.5,534.5 L451.5,533.0 L453.5,536.5 L450.5,539.0 L447.0,538.0 Z" />
<path class="p" d="M490.5,525.0 L496.5,523.5 L498.5,527.0 L495.5,529.5 L492.0,528.5 Z" />
<path class="p" d="M510.5,521.0 L516.5,519.5 L518.5,523.0 L515.5,525.5 L512.0,524.5 Z" style="stroke-width:1.4"/>
<path class="p" d="M560,512.5 L567.5,511 L569.6,515.5 L565,517.5 L562,517 Z"/>
<path class="p" d="M238,588.7 L243,591.5 L242.5,593.8 L238.5,592.5 Z"/>
<path class="p" d="M249,594.5 L257.5,597 L258,600 L253,601 L248.5,598 Z"/>
</g>
</g>
</svg>
</body>
</html>
